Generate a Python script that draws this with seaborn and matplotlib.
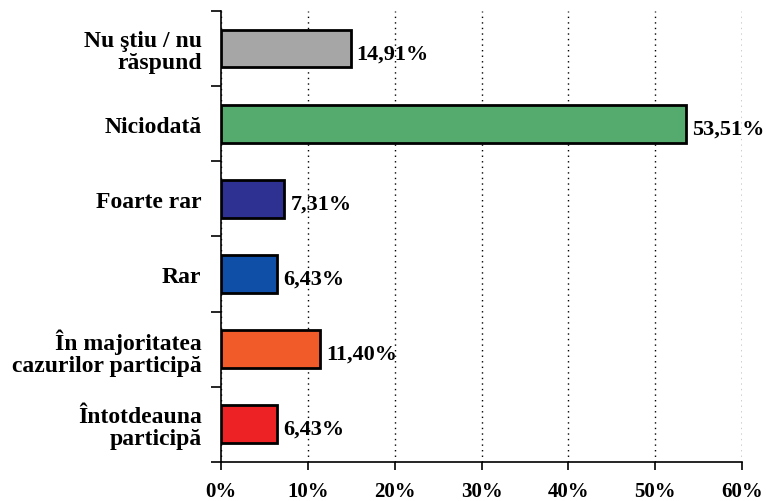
import numpy as np
import pandas as pd
import seaborn as sns
import matplotlib.pyplot as plt
from matplotlib.ticker import FixedLocator

categories = ['Nu ştiu / nu\nrăspund', 'Niciodată', 'Foarte rar', 'Rar',
              'În majoritatea\ncazurilor participă', 'Întotdeauna\nparticipă']
values = [14.91, 53.51, 7.31, 6.43, 11.40, 6.43]
value_labels = ['14,91%', '53,51%', '7,31%', '6,43%', '11,40%', '6,43%']
colors = ['#A6A6A6', '#55AB6E', '#2E3192', '#0F4FA8', '#F15A29', '#ED2224']
xticks = [0, 10, 20, 30, 40, 50, 60]

sns.set_style('white')
plt.rcParams['font.family'] = ['Liberation Serif', 'DejaVu Serif']
plt.rcParams['font.weight'] = 'bold'
plt.rcParams['text.color'] = 'black'
plt.rcParams['xtick.color'] = 'black'
plt.rcParams['ytick.color'] = 'black'

df = pd.DataFrame({'cat': categories, 'val': values})

fig = plt.figure(figsize=(7.66, 5.02), dpi=100)
ax = fig.add_axes([0.2885, 0.078, 0.6805, 0.898])
sns.barplot(data=df, x='val', y='cat', hue='cat', palette=colors, legend=False,
            saturation=1, width=0.5, edgecolor='black', linewidth=2, ax=ax)

for i, (v, lab) in enumerate(zip(values, value_labels)):
    ax.text(v + 0.7, i + 0.06, lab, va='center', ha='left', fontsize=16,
            fontweight='bold', color='black')

ax.set_xlim(0, 60)
ax.set_ylim(len(categories) - 0.5, -0.5)
ax.set_xticks(xticks)
ax.set_xticklabels([f'{t}%' for t in xticks], fontsize=15, fontweight='bold')
ax.xaxis.grid(True, linestyle=(0, (1, 3)), color='black', linewidth=1)
ax.set_axisbelow(True)

# category labels centered on bars, ticks at band boundaries
ax.set_yticks(range(len(categories)))
ax.set_yticklabels(categories, fontsize=17, fontweight='bold', ha='right',
                   multialignment='right', linespacing=1.05)
ax.tick_params(axis='y', length=0, pad=14, labelcolor='black')
ax.yaxis.set_minor_locator(FixedLocator(np.arange(-0.5, len(categories), 1.0)))
ax.tick_params(axis='y', which='minor', length=7, width=1.2, color='black', left=True)
ax.tick_params(axis='x', length=6, width=1.2, color='black', bottom=True, pad=8,
               labelcolor='black')

ax.set_xlabel('')
ax.set_ylabel('')
for s in ['top', 'right']:
    ax.spines[s].set_visible(False)
ax.spines['left'].set_color('black')
ax.spines['bottom'].set_color('black')
ax.spines['left'].set_linewidth(1.2)
ax.spines['bottom'].set_linewidth(1.2)

fig.savefig('out.png', dpi=100)
